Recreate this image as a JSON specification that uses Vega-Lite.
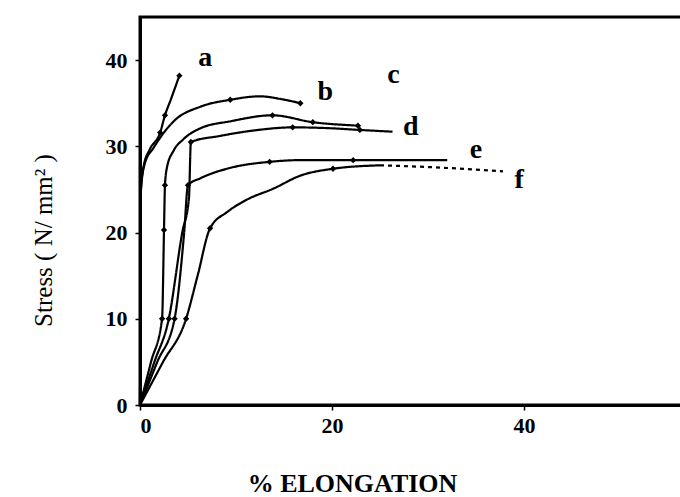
{
  "$schema": "https://vega.github.io/schema/vega-lite/v6.json",
  "autosize": {"type": "none"},
  "padding": {"left": 140, "top": 17, "right": 0, "bottom": 92},
  "width": 542,
  "height": 388,
  "background": "white",
  "config": {
    "view": {"stroke": "black", "strokeWidth": 3},
    "font": "Liberation Serif"
  },
  "datasets": {
    "curves": [
      {"c": "a", "seg": "solid", "x": 0, "y": 0, "m": 0},
      {"c": "a", "seg": "solid", "x": 0.05, "y": 13, "m": 0},
      {"c": "a", "seg": "solid", "x": 0.1, "y": 25, "m": 0},
      {"c": "a", "seg": "solid", "x": 0.4, "y": 27.8, "m": 0},
      {"c": "a", "seg": "solid", "x": 1.0, "y": 29.6, "m": 0},
      {"c": "a", "seg": "solid", "x": 2.1, "y": 31.6, "m": 1},
      {"c": "a", "seg": "solid", "x": 2.6, "y": 33.6, "m": 1},
      {"c": "a", "seg": "solid", "x": 3.2, "y": 35.4, "m": 0},
      {"c": "a", "seg": "solid", "x": 4.1, "y": 38.2, "m": 1},
      {"c": "b", "seg": "solid", "x": 0, "y": 0, "m": 0},
      {"c": "b", "seg": "solid", "x": 0.05, "y": 13, "m": 0},
      {"c": "b", "seg": "solid", "x": 0.1, "y": 25, "m": 0},
      {"c": "b", "seg": "solid", "x": 0.5, "y": 28.0, "m": 0},
      {"c": "b", "seg": "solid", "x": 1.4, "y": 29.8, "m": 0},
      {"c": "b", "seg": "solid", "x": 3.6, "y": 33.0, "m": 0},
      {"c": "b", "seg": "solid", "x": 6.3, "y": 34.6, "m": 0},
      {"c": "b", "seg": "solid", "x": 9.4, "y": 35.4, "m": 1},
      {"c": "b", "seg": "solid", "x": 12.5, "y": 35.8, "m": 0},
      {"c": "b", "seg": "solid", "x": 14.6, "y": 35.5, "m": 0},
      {"c": "b", "seg": "solid", "x": 16.7, "y": 35.0, "m": 1},
      {"c": "c", "seg": "solid", "x": 0, "y": 0, "m": 0},
      {"c": "c", "seg": "solid", "x": 1.15, "y": 5, "m": 0},
      {"c": "c", "seg": "solid", "x": 2.3, "y": 10, "m": 1},
      {"c": "c", "seg": "solid", "x": 2.5, "y": 20.3, "m": 1},
      {"c": "c", "seg": "solid", "x": 2.6, "y": 25.5, "m": 1},
      {"c": "c", "seg": "solid", "x": 2.8, "y": 27.5, "m": 0},
      {"c": "c", "seg": "solid", "x": 3.5, "y": 29.5, "m": 0},
      {"c": "c", "seg": "solid", "x": 4.5, "y": 30.8, "m": 0},
      {"c": "c", "seg": "solid", "x": 6.3, "y": 32.1, "m": 0},
      {"c": "c", "seg": "solid", "x": 9.4, "y": 32.9, "m": 0},
      {"c": "c", "seg": "solid", "x": 13.8, "y": 33.6, "m": 1},
      {"c": "c", "seg": "solid", "x": 18.0, "y": 32.8, "m": 1},
      {"c": "c", "seg": "solid", "x": 22.7, "y": 32.4, "m": 1},
      {"c": "d", "seg": "solid", "x": 0, "y": 0, "m": 0},
      {"c": "d", "seg": "solid", "x": 1.5, "y": 5, "m": 0},
      {"c": "d", "seg": "solid", "x": 3.0, "y": 10, "m": 1},
      {"c": "d", "seg": "solid", "x": 4.4, "y": 20, "m": 0},
      {"c": "d", "seg": "solid", "x": 5.1, "y": 24, "m": 0},
      {"c": "d", "seg": "solid", "x": 5.3, "y": 30.5, "m": 1},
      {"c": "d", "seg": "solid", "x": 8.3, "y": 31.2, "m": 0},
      {"c": "d", "seg": "solid", "x": 12.3, "y": 31.9, "m": 0},
      {"c": "d", "seg": "solid", "x": 15.9, "y": 32.2, "m": 1},
      {"c": "d", "seg": "solid", "x": 19.8, "y": 32.1, "m": 0},
      {"c": "d", "seg": "solid", "x": 22.9, "y": 31.9, "m": 1},
      {"c": "d", "seg": "solid", "x": 26.3, "y": 31.7, "m": 0},
      {"c": "e", "seg": "solid", "x": 0, "y": 0, "m": 0},
      {"c": "e", "seg": "solid", "x": 1.8, "y": 5, "m": 0},
      {"c": "e", "seg": "solid", "x": 3.6, "y": 10, "m": 1},
      {"c": "e", "seg": "solid", "x": 4.6, "y": 20, "m": 0},
      {"c": "e", "seg": "solid", "x": 5.0, "y": 25.5, "m": 1},
      {"c": "e", "seg": "solid", "x": 6.3, "y": 26.3, "m": 0},
      {"c": "e", "seg": "solid", "x": 9.4, "y": 27.5, "m": 0},
      {"c": "e", "seg": "solid", "x": 13.5, "y": 28.2, "m": 1},
      {"c": "e", "seg": "solid", "x": 16.7, "y": 28.4, "m": 0},
      {"c": "e", "seg": "solid", "x": 22.2, "y": 28.4, "m": 1},
      {"c": "e", "seg": "solid", "x": 26.0, "y": 28.4, "m": 0},
      {"c": "e", "seg": "solid", "x": 32.0, "y": 28.4, "m": 0},
      {"c": "f", "seg": "solid", "x": 0, "y": 0, "m": 0},
      {"c": "f", "seg": "solid", "x": 2.4, "y": 5, "m": 0},
      {"c": "f", "seg": "solid", "x": 4.8, "y": 10, "m": 1},
      {"c": "f", "seg": "solid", "x": 6.0, "y": 15, "m": 0},
      {"c": "f", "seg": "solid", "x": 7.3, "y": 20.5, "m": 1},
      {"c": "f", "seg": "solid", "x": 9.1, "y": 22.4, "m": 0},
      {"c": "f", "seg": "solid", "x": 11.1, "y": 23.8, "m": 0},
      {"c": "f", "seg": "solid", "x": 13.9, "y": 25.1, "m": 0},
      {"c": "f", "seg": "solid", "x": 16.7, "y": 26.6, "m": 0},
      {"c": "f", "seg": "solid", "x": 20.1, "y": 27.4, "m": 1},
      {"c": "f", "seg": "solid", "x": 25.0, "y": 27.8, "m": 0},
      {"c": "f", "seg": "dashed", "x": 25.0, "y": 27.8, "m": 0},
      {"c": "f", "seg": "dashed", "x": 30.0, "y": 27.6, "m": 0},
      {"c": "f", "seg": "dashed", "x": 37.8, "y": 27.1, "m": 0}
    ],
    "labels": [
      {"c": "a", "x": 6.8, "y": 40.2},
      {"c": "b", "x": 19.3, "y": 36.3},
      {"c": "c", "x": 26.4, "y": 38.3},
      {"c": "d", "x": 28.2, "y": 32.3},
      {"c": "e", "x": 35.0, "y": 29.6},
      {"c": "f", "x": 39.5, "y": 26.1}
    ]
  },
  "layer": [
    {
      "data": {"name": "curves"},
      "mark": {"type": "line", "color": "black", "strokeWidth": 2.2, "interpolate": "monotone"},
      "encoding": {
        "x": {
          "field": "x", "type": "quantitative",
          "scale": {"domain": [0, 56.45], "nice": false},
          "axis": {
            "values": [0, 20, 40], "title": "% ELONGATION",
            "grid": false, "domainColor": "black", "domainWidth": 3,
            "tickColor": "black", "tickSize": 5, "tickWidth": 1.5,
            "labelFont": "Liberation Serif", "labelFontWeight": "bold", "labelFontSize": 22, "labelColor": "black",
            "labelPadding": 5,
            "titleFont": "Liberation Serif", "titleFontWeight": "bold", "titleFontSize": 26, "titleColor": "black",
            "titleX": 212, "titleAlign": "center", "titlePadding": 34
          }
        },
        "y": {
          "field": "y", "type": "quantitative",
          "scale": {"domain": [0, 45], "nice": false},
          "axis": {
            "values": [0, 10, 20, 30, 40], "title": "Stress ( N/ mm² )",
            "grid": false, "domainColor": "black", "domainWidth": 3,
            "tickColor": "black", "tickSize": 5, "tickWidth": 1.5,
            "labelFont": "Liberation Serif", "labelFontWeight": "bold", "labelFontSize": 22, "labelColor": "black",
            "labelPadding": 8,
            "titleFont": "Liberation Serif", "titleFontWeight": "normal", "titleFontSize": 25, "titleColor": "black",
            "titleX": -97, "titleY": 223, "titleAngle": -90, "titleAlign": "center", "titleBaseline": "middle"
          }
        },
        "detail": [{"field": "c"}, {"field": "seg"}],
        "strokeDash": {
          "field": "seg", "type": "nominal",
          "scale": {"domain": ["solid", "dashed"], "range": [[1, 0], [4, 4]]},
          "legend": null
        }
      }
    },
    {
      "data": {"name": "curves"},
      "transform": [{"filter": "datum.m == 1"}],
      "mark": {"type": "point", "filled": true, "color": "black", "size": 40, "shape": "diamond", "opacity": 1},
      "encoding": {
        "x": {"field": "x", "type": "quantitative"},
        "y": {"field": "y", "type": "quantitative"}
      }
    },
    {
      "data": {"name": "labels"},
      "mark": {"type": "text", "font": "Liberation Serif", "fontWeight": "bold", "fontSize": 28, "color": "black", "align": "center", "baseline": "middle"},
      "encoding": {
        "x": {"field": "x", "type": "quantitative"},
        "y": {"field": "y", "type": "quantitative"},
        "text": {"field": "c"}
      }
    }
  ]
}
